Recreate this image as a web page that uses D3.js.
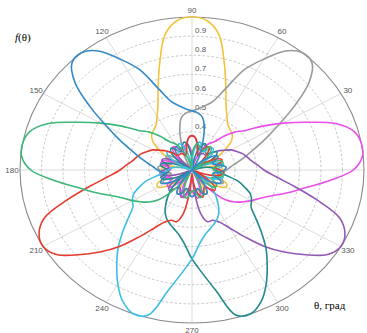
<!DOCTYPE html>
<html><head><meta charset="utf-8">
<script src="https://cdn.jsdelivr.net/npm/d3@7"></script>
<style>html,body{margin:0;padding:0;background:#fff;}svg{display:block;}</style>
</head><body><div id="chart"></div>
<script>
const angles = d3.range(0, 360, 5);
const radialTicks = [0.3, 0.4, 0.5, 0.6, 0.7, 0.8, 0.9];
const angleTicks = [0, 30, 60, 90, 120, 150, 180, 210, 240, 270, 300, 330];
const angleLabels = [30, 60, 90, 120, 150, 180, 210, 240, 270, 300, 330];

const yellowVals = [0.34,0.34,0.31,0.26,0.20,0.27,0.33,0.39,0.44,0.465,0.475,0.49,0.525,0.575,0.66,0.78,0.92,0.985,
1.00,0.985,0.92,0.78,0.66,0.575,0.525,0.49,0.475,0.465,0.44,0.39,0.33,0.27,0.20,0.26,0.31,0.34,
0.34,0.32,0.30,0.32,0.35,0.38,0.38,0.35,0.30,0.25,0.20,0.26,0.31,0.33,0.33,0.31,0.30,0.31,
0.32,0.31,0.30,0.31,0.33,0.33,0.31,0.26,0.20,0.25,0.30,0.35,0.38,0.38,0.35,0.32,0.30,0.32];

const grayVals = [0.36,0.38,0.41,0.45,0.50,0.57,0.66,0.78,0.91,0.99,1.00,0.96,0.87,0.78,0.65,0.57,0.54,0.52,
0.51,0.50,0.48,0.42,0.34,0.28,0.23,0.20,0.22,0.27,0.30,0.33,0.34,0.32,0.30,0.31,0.34,0.36,
0.35,0.33,0.30,0.30,0.33,0.35,0.34,0.31,0.26,0.20,0.26,0.31,0.34,0.34,0.32,0.30,0.31,0.33,
0.34,0.33,0.31,0.30,0.32,0.34,0.34,0.31,0.26,0.20,0.25,0.30,0.34,0.36,0.35,0.33,0.32,0.34];

const magentaVals = [0.95,0.995,1.00,0.98,0.91,0.79,0.69,0.60,0.52,0.48,0.43,0.38,0.36,0.33,0.29,0.24,0.20,0.23,
0.28,0.32,0.34,0.33,0.31,0.31,0.33,0.35,0.34,0.31,0.26,0.20,0.25,0.30,0.34,0.35,0.33,0.30,
0.30,0.33,0.35,0.34,0.31,0.30,0.32,0.34,0.34,0.31,0.26,0.20,0.25,0.30,0.34,0.35,0.33,0.31,
0.31,0.33,0.35,0.34,0.31,0.26,0.22,0.27,0.35,0.42,0.46,0.49,0.52,0.55,0.595,0.66,0.735,0.84];

const purpleVals = [0.535,0.505,0.48,0.465,0.45,0.43,0.41,0.38,0.355,0.325,0.30,0.30,0.30,0.29,0.28,0.30,0.34,0.37,
0.38,0.37,0.34,0.30,0.28,0.31,0.34,0.34,0.31,0.26,0.20,0.25,0.30,0.34,0.35,0.33,0.31,0.31,
0.33,0.35,0.34,0.31,0.26,0.20,0.25,0.30,0.34,0.35,0.33,0.31,0.31,0.33,0.35,0.34,0.31,0.26,
0.22,0.30,0.43,0.48,0.48,0.50,0.55,0.625,0.72,0.806,0.89,0.97,1.00,0.985,0.93,0.80,0.68,0.59];

const tealVals = [0.31,0.30,0.28,0.24,0.20,0.25,0.30,0.34,0.35,0.33,0.31,0.31,0.33,0.35,0.34,0.31,0.26,0.20,
0.25,0.30,0.34,0.35,0.33,0.31,0.31,0.33,0.35,0.34,0.31,0.26,0.20,0.25,0.30,0.34,0.35,0.33,
0.31,0.31,0.33,0.35,0.34,0.31,0.26,0.22,0.27,0.33,0.37,0.41,0.45,0.48,0.50,0.52,0.545,0.59,
0.665,0.74,0.84,0.985,1.00,0.96,0.89,0.81,0.735,0.655,0.585,0.535,0.52,0.50,0.46,0.42,0.36,0.33];

const cyanVals = [0.31,0.33,0.35,0.34,0.30,0.25,0.20,0.26,0.31,0.34,0.35,0.33,0.31,0.31,0.33,0.35,0.34,0.30,
0.25,0.20,0.26,0.31,0.34,0.35,0.33,0.31,0.31,0.33,0.35,0.34,0.30,0.25,0.20,0.24,0.28,0.30,
0.31,0.33,0.36,0.42,0.46,0.50,0.52,0.535,0.585,0.655,0.735,0.81,0.89,0.96,1.00,0.985,0.84,0.74,
0.665,0.59,0.545,0.52,0.50,0.48,0.45,0.41,0.37,0.33,0.27,0.22,0.26,0.31,0.34,0.35,0.33,0.31];

const redVals = [0.33,0.31,0.31,0.33,0.35,0.34,0.30,0.25,0.20,0.26,0.31,0.34,0.34,0.31,0.28,0.30,0.34,0.37,
0.38,0.37,0.34,0.30,0.28,0.29,0.30,0.30,0.30,0.325,0.355,0.38,0.41,0.43,0.45,0.465,0.48,0.505,
0.535,0.59,0.68,0.80,0.93,0.985,1.00,0.97,0.89,0.806,0.72,0.625,0.55,0.50,0.48,0.48,0.43,0.30,
0.22,0.26,0.31,0.34,0.35,0.33,0.31,0.31,0.33,0.35,0.34,0.30,0.25,0.20,0.26,0.31,0.34,0.35];

const greenVals = [0.30,0.30,0.33,0.35,0.34,0.30,0.25,0.20,0.26,0.31,0.34,0.35,0.33,0.31,0.31,0.33,0.34,0.32,
0.28,0.23,0.20,0.24,0.29,0.33,0.36,0.38,0.43,0.48,0.52,0.60,0.69,0.79,0.91,0.98,1.00,0.995,
0.95,0.84,0.735,0.66,0.595,0.55,0.52,0.49,0.46,0.42,0.35,0.27,0.22,0.26,0.31,0.34,0.35,0.33,
0.31,0.31,0.33,0.35,0.34,0.30,0.25,0.20,0.26,0.31,0.34,0.34,0.32,0.30,0.31,0.34,0.35,0.33];

const blueVals = [0.35,0.36,0.34,0.31,0.30,0.32,0.34,0.33,0.30,0.27,0.22,0.20,0.23,0.28,0.34,0.42,0.48,0.50,
0.51,0.52,0.54,0.57,0.65,0.78,0.87,0.96,1.00,0.99,0.91,0.78,0.66,0.57,0.50,0.45,0.41,0.38,
0.36,0.34,0.32,0.33,0.35,0.36,0.34,0.30,0.25,0.20,0.26,0.31,0.34,0.34,0.32,0.30,0.31,0.33,
0.34,0.33,0.31,0.30,0.32,0.34,0.34,0.31,0.26,0.20,0.26,0.31,0.34,0.35,0.33,0.30,0.30,0.33];

const seriesNames = ["yellow","gray","magenta","purple","teal","cyan","red","green","blue"];
const seriesColors = ["#f3c33c","#9a9a9a","#ea4fea","#9258b4","#23898c","#3dbfe3","#e53b2e","#3db67a","#3389c6"];
const seriesValues = [yellowVals, grayVals, magentaVals, purpleVals, tealVals, cyanVals, redVals, greenVals, blueVals];

const W = 367, H = 333, cx = 192, cy = 170, RX = 172, RY = 153;
const svg = d3.select("#chart").append("svg").attr("width", W).attr("height", H);

const rx = d3.scaleLinear().domain([0.2, 1]).range([0, RX]).clamp(true);
const ry = d3.scaleLinear().domain([0.2, 1]).range([0, RY]).clamp(true);
const rad = d => d * Math.PI / 180;

const g = svg.append("g").attr("transform", `translate(${cx},${cy})`);

// spokes
g.selectAll("line.spoke").data(angleTicks).enter().append("line")
  .attr("x1", 0).attr("y1", 0)
  .attr("x2", a => rx(1) * Math.cos(rad(a)))
  .attr("y2", a => -ry(1) * Math.sin(rad(a)))
  .attr("stroke", "#dcdcdc").attr("stroke-width", 1);

// rings
g.selectAll("ellipse.ring").data(radialTicks).enter().append("ellipse")
  .attr("rx", d => rx(d)).attr("ry", d => ry(d))
  .attr("fill", "none").attr("stroke", "#b8b8b8").attr("stroke-width", 0.8)
  .attr("stroke-dasharray", "2.5,2");
g.append("ellipse").attr("rx", rx(1)).attr("ry", ry(1))
  .attr("fill", "none").attr("stroke", "#8a8a8a").attr("stroke-width", 1.1);

// radial labels
g.selectAll("text.rt").data(radialTicks).enter().append("text")
  .attr("x", 3).attr("y", d => -ry(d) - 3)
  .attr("font-family", "Liberation Sans, Arial, sans-serif").attr("font-size", 8)
  .attr("fill", "#555").text(d => d.toFixed(1));

// angle labels
g.selectAll("text.at").data(angleLabels).enter().append("text")
  .attr("x", a => 180 * Math.cos(rad(a)))
  .attr("y", a => -160 * Math.sin(rad(a)))
  .attr("text-anchor", "middle").attr("dominant-baseline", "central")
  .attr("font-family", "Liberation Sans, Arial, sans-serif").attr("font-size", 8)
  .attr("fill", "#555").text(a => a);

// curves
const line = d3.line()
  .x(d => rx(d[1]) * Math.cos(rad(d[0])))
  .y(d => -ry(d[1]) * Math.sin(rad(d[0])))
  .curve(d3.curveCatmullRomClosed.alpha(0.5));

seriesValues.forEach((vals, k) => {
  g.append("path")
    .datum(angles.map((a, i) => [a, vals[i]]))
    .attr("d", line)
    .attr("fill", "none")
    .attr("stroke", seriesColors[k])
    .attr("stroke-width", 1.6)
    .attr("stroke-linejoin", "round")
    .attr("class", "series-" + seriesNames[k]);
});

// axis titles
svg.append("text").attr("x", 15).attr("y", 41)
  .attr("font-family", "Liberation Serif, Times New Roman, serif").attr("font-size", 11)
  .html('<tspan font-style="italic">f</tspan>(θ)');
svg.append("text").attr("x", 314).attr("y", 309)
  .attr("font-family", "Liberation Serif, Times New Roman, serif").attr("font-size", 11)
  .text("θ, град");
</script></body></html>
